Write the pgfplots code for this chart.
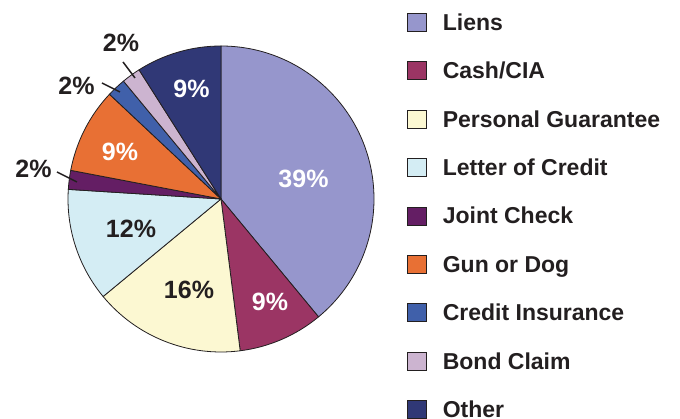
\documentclass[border=0pt]{standalone}
\usepackage{pgfplots}
\pgfplotsset{compat=1.18}
\usepackage{fontspec}
\setmainfont{Liberation Sans}
\definecolor{liens}{RGB}{150,150,204}
\definecolor{cash}{RGB}{155,53,100}
\definecolor{pguar}{RGB}{252,248,210}
\definecolor{loc}{RGB}{212,237,244}
\definecolor{joint}{RGB}{100,30,100}
\definecolor{gun}{RGB}{232,112,52}
\definecolor{cins}{RGB}{64,96,170}
\definecolor{bond}{RGB}{204,180,208}
\definecolor{other}{RGB}{48,56,118}
\definecolor{txt}{RGB}{35,31,32}
% slice: start cumulative %, end cumulative %, colour
\newcommand{\slice}[3]{%
  \filldraw[fill=#3, draw=txt, line width=0.8pt, line join=round]
    (axis cs:221,220) -- ++({90-3.6*#1}:153pt)
    arc[start angle={90-3.6*#1}, end angle={90-3.6*#2}, radius=153pt] -- cycle;}
\begin{document}
\begin{tikzpicture}
\begin{axis}[
  x=1pt, y=1pt, xmin=0, xmax=680, ymin=0, ymax=419,
  hide axis, clip=false,
  legend image code/.code={\draw[#1, draw=txt, line width=0.8pt] (0pt,-9pt) rectangle (19pt,9pt);},
  legend cell align=left,
  legend style={at={(axis cs:407,406)}, anchor=north west, draw=none, fill=none,
    inner sep=0pt, outer sep=0pt, row sep=29.6pt, column sep=16pt,
    font=\fontsize{23}{27}\selectfont\bfseries, text=txt,
    nodes={inner sep=0pt, outer sep=0pt, text height=16pt, text depth=0pt}},
]
% values (%): Liens 39, Cash/CIA 9, Personal Guarantee 16, Letter of Credit 12,
% Joint Check 2, Gun or Dog 9, Credit Insurance 2, Bond Claim 2, Other 9
\slice{0}{39}{liens}
\slice{39}{48}{cash}
\slice{48}{64}{pguar}
\slice{64}{76}{loc}
\slice{76}{78}{joint}
\slice{78}{87}{gun}
\slice{87}{89}{cins}
\slice{89}{91}{bond}
\slice{91}{100}{other}
\addlegendimage{fill=liens}\addlegendentry{Liens}
\addlegendimage{fill=cash}\addlegendentry{Cash/CIA}
\addlegendimage{fill=pguar}\addlegendentry{Personal Guarantee}
\addlegendimage{fill=loc}\addlegendentry{Letter of Credit}
\addlegendimage{fill=joint}\addlegendentry{Joint Check}
\addlegendimage{fill=gun}\addlegendentry{Gun or Dog}
\addlegendimage{fill=cins}\addlegendentry{Credit Insurance}
\addlegendimage{fill=bond}\addlegendentry{Bond Claim}
\addlegendimage{fill=other}\addlegendentry{Other}
\begin{scope}[font=\fontsize{25}{30}\selectfont\bfseries]
\node[white] at (axis cs:303.5,240) {39\%};
\node[white] at (axis cs:270,117) {9\%};
\node[txt] at (axis cs:189,129) {16\%};
\node[txt] at (axis cs:131,190) {12\%};
\node[white] at (axis cs:120,267.5) {9\%};
\node[white] at (axis cs:191.5,330.5) {9\%};
\node[txt] at (axis cs:121,376) {2\%};
\node[txt] at (axis cs:76.5,333.5) {2\%};
\node[txt] at (axis cs:33.5,250.5) {2\%};
\end{scope}
\draw[txt, line width=1.5pt] (axis cs:123,357) -- (axis cs:135,341);
\draw[txt, line width=1.5pt] (axis cs:102,336) -- (axis cs:120,327);
\draw[txt, line width=1.5pt] (axis cs:57,247) -- (axis cs:77,237);
\end{axis}
\pgfresetboundingbox
\path (current axis.south west) rectangle (current axis.north east);
\end{tikzpicture}
\end{document}
